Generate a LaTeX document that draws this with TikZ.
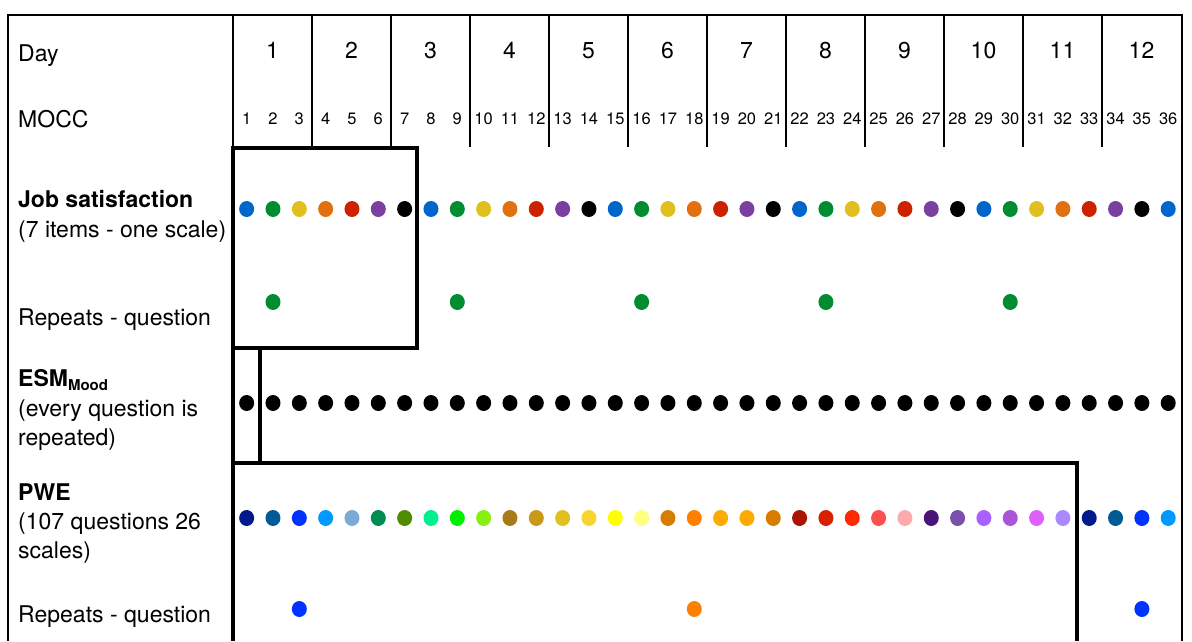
\documentclass[tikz,border=0pt]{standalone}
\usepackage{fontspec}
\setmainfont{TeX Gyre Heros}
\usetikzlibrary{shapes.geometric}
% job satisfaction colours
\definecolor{js1}{HTML}{0066CC}
\definecolor{js2}{HTML}{008C30}
\definecolor{js3}{HTML}{E0C020}
\definecolor{js4}{HTML}{E07010}
\definecolor{js5}{HTML}{CC2200}
\definecolor{js6}{HTML}{7A40A0}
\definecolor{js7}{HTML}{000000}
% PWE colours
\definecolor{p1}{HTML}{001A8C}
\definecolor{p2}{HTML}{005A96}
\definecolor{p3}{HTML}{0033FF}
\definecolor{p4}{HTML}{0099FF}
\definecolor{p5}{HTML}{7AAAD6}
\definecolor{p6}{HTML}{008C50}
\definecolor{p7}{HTML}{4F8C00}
\definecolor{p8}{HTML}{00F090}
\definecolor{p9}{HTML}{00EE00}
\definecolor{p10}{HTML}{88F010}
\definecolor{p11}{HTML}{A87A18}
\definecolor{p12}{HTML}{C89A18}
\definecolor{p13}{HTML}{E0BF20}
\definecolor{p14}{HTML}{F8D430}
\definecolor{p15}{HTML}{FFFF00}
\definecolor{p16}{HTML}{FFFF80}
\definecolor{p17}{HTML}{D87C00}
\definecolor{p18}{HTML}{FF8000}
\definecolor{p19}{HTML}{FFAA00}
\definecolor{p20}{HTML}{FFAA00}
\definecolor{p21}{HTML}{D87C00}
\definecolor{p22}{HTML}{AA1400}
\definecolor{p23}{HTML}{D82000}
\definecolor{p24}{HTML}{FF2800}
\definecolor{p25}{HTML}{FF5050}
\definecolor{p26}{HTML}{FFAAAA}
\definecolor{p27}{HTML}{4A1578}
\definecolor{p28}{HTML}{7A50AA}
\definecolor{p29}{HTML}{AA60FF}
\definecolor{p30}{HTML}{AA55D8}
\definecolor{p31}{HTML}{DD60FF}
\definecolor{p32}{HTML}{AA88FF}
\begin{document}
\begin{tikzpicture}[x=1pt,y=-1pt,
  lbl/.style={anchor=base west, inner sep=0pt, font=\fontsize{23}{28}\selectfont},
  daynum/.style={anchor=base, inner sep=0pt, font=\fontsize{23}{28}\selectfont},
  moccnum/.style={anchor=base, inner sep=0pt, font=\fontsize{16.5}{20}\selectfont},
  dot/.style={ellipse, inner sep=0pt, minimum width=15pt, minimum height=16pt, draw=none},
  frameline/.style={line width=2.5pt},
  tickline/.style={line width=2.2pt},
  boxline/.style={line width=3.5pt},
]
\useasboundingbox (0,0) rectangle (1192,641);
\def\xo{233.5}
\def\cw{26.33}
% outer frame
\draw[frameline] (8,641) -- (8,15) -- (1182,15) -- (1182,641);
% header column lines
\foreach \k in {0,...,11}
  \draw[tickline] ({233+\k*79},15) -- ({233+\k*79},147);
% header labels
\node[lbl] (day) at (18,61) {Day};
\node[lbl] (mocc) at (18,127) {MOCC};
\foreach \d in {1,...,12}
  \node[daynum] (d\d) at ({233+(\d-0.5)*79},58) {\d};
\foreach \m in {1,...,36}
  \node[moccnum] (m\m) at ({\xo+(\m-0.5)*\cw},124) {\m};
% boxes
\draw[boxline] (233,148) rectangle (417,348);
\draw[boxline] (233,348) rectangle (260,463);
\draw[boxline] (233,641) -- (233,463) -- (1077,463) -- (1077,641);
% row labels
\node[lbl] (js) at (18,207) {\textbf{Job satisfaction}};
\node[lbl] (jsb) at (18,237) {(7 items - one scale)};
\node[lbl] (rep1) at (18,325) {Repeats - question};
\node[lbl] (esm) at (18,386) {\textbf{ESM}\raisebox{-4pt}{\fontsize{15}{18}\selectfont\bfseries Mood}};
\node[lbl] (esmb) at (18,416) {(every question is};
\node[lbl] (esmc) at (18,445) {repeated)};
\node[lbl] (pwe) at (18,500) {\textbf{PWE}};
\node[lbl] (pweb) at (18,529) {(107 questions 26};
\node[lbl] (pwec) at (18,558) {scales)};
\node[lbl] (rep2) at (18,622) {Repeats - question};
% job satisfaction dots
\foreach \i in {1,...,36} {
  \pgfmathtruncatemacro\cc{mod(\i-1,7)+1}
  \node[dot, fill=js\cc] (js\i) at ({\xo+(\i-0.5)*\cw},209) {};
}
% job satisfaction repeats
\foreach \i in {2,9,16,23,30}
  \node[dot, fill=js2] (jr\i) at ({\xo+(\i-0.5)*\cw},302) {};
% ESM dots
\foreach \i in {1,...,36}
  \node[dot, fill=black] (es\i) at ({\xo+(\i-0.5)*\cw},403) {};
% PWE dots
\foreach \i in {1,...,36} {
  \pgfmathtruncatemacro\cc{\i>32 ? \i-32 : \i}
  \node[dot, fill=p\cc] (pw\i) at ({\xo+(\i-0.5)*\cw},518) {};
}
% PWE repeats
\node[dot, fill=p3] (pr3) at ({\xo+2.5*\cw},609) {};
\node[dot, fill=p18] (pr18) at ({\xo+17.5*\cw},609) {};
\node[dot, fill=p3] (pr35) at ({\xo+34.5*\cw},609) {};
\end{tikzpicture}
\end{document}
